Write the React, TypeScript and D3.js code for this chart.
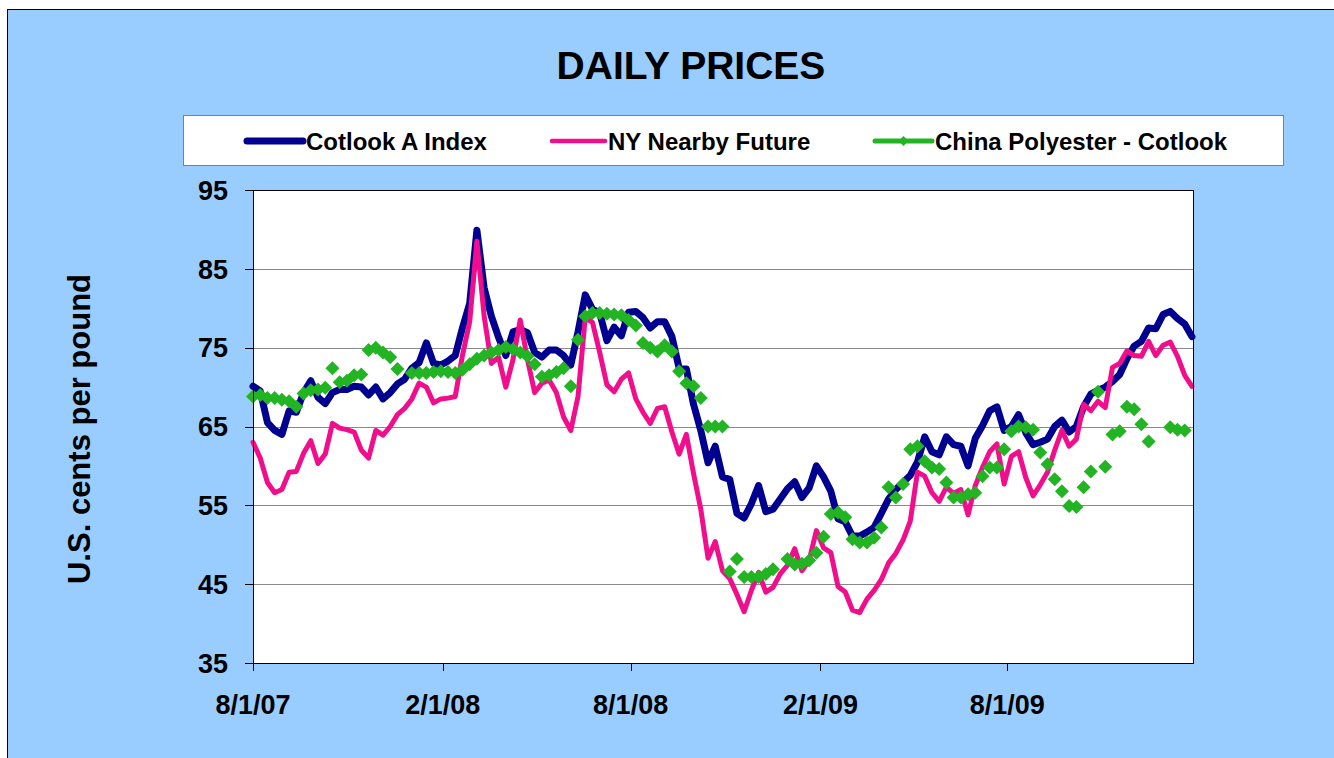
import React from "react";
import * as d3 from "d3";

// ---------- data ----------
const START_DATE = "2007-08-01";
const END_DATE = "2010-01-29";
const STEP_DAYS = 7; // weekly observations

const seriesNames = ["Cotlook A Index", "NY Nearby Future", "China Polyester - Cotlook"];
const chartTitle = "DAILY PRICES";
const yAxisTitle = "U.S. cents per pound";
const yTicks = [35, 45, 55, 65, 75, 85, 95];
const xTickLabels = ["8/1/07", "2/1/08", "8/1/08", "2/1/09", "8/1/09"];

const cotlookA: number[] = [
  70.1, 69.5, 65.5, 64.5, 64.0, 67.0, 66.8, 69.3, 70.8, 68.7,
  67.9, 69.3, 69.7, 69.7, 70.1, 70.0, 69.0, 70.0, 68.5, 69.3,
  70.4, 71.0, 72.4, 73.1, 75.6, 73.0, 72.8, 73.3, 74.0, 77.5,
  80.6, 89.9, 82.6, 79.0, 76.3, 74.0, 77.0, 77.3, 76.9, 74.4,
  73.8, 74.7, 74.7, 74.0, 72.8, 77.0, 81.7, 79.9, 79.4, 75.9,
  77.6, 76.5, 79.5, 79.6, 78.8, 77.5, 78.3, 78.3, 76.4, 72.4,
  72.3, 67.8, 64.5, 60.4, 62.5, 58.6, 58.3, 54.0, 53.4, 55.2,
  57.5, 54.2, 54.5, 55.8, 57.1, 58.0, 56.0, 57.2, 60.0, 58.6,
  56.8, 53.3, 52.9, 51.1, 51.1, 51.6, 52.2, 54.0, 55.8, 57.0,
  57.9, 58.8, 60.5, 63.7, 61.8, 61.4, 63.7, 62.7, 62.5, 60.0,
  63.5, 65.1, 67.0, 67.5, 64.5, 65.0, 66.5, 64.2, 62.7, 63.0,
  63.4, 65.0, 65.8, 64.3, 65.0, 67.5, 69.1, 69.6, 70.0, 70.7,
  71.6, 73.6, 75.2, 75.8, 77.5, 77.4, 79.2, 79.6, 78.7, 78.0,
  76.4,
];

const nyNearby: number[] = [
  63.0, 61.0, 57.9, 56.6, 57.0, 59.2, 59.3, 61.6, 63.2, 60.3,
  61.5, 65.4, 64.8, 64.6, 64.3, 62.0, 61.0, 64.5, 63.9, 65.0,
  66.5, 67.3, 68.5, 70.5, 70.0, 68.0, 68.5, 68.6, 68.8, 74.0,
  78.3, 88.5, 79.0, 73.0, 73.8, 70.0, 73.5, 78.5, 73.5, 69.3,
  70.5, 70.9, 69.3, 66.2, 64.5, 68.8, 78.8, 78.2, 74.4, 70.3,
  69.4, 71.0, 71.8, 68.5, 66.8, 65.4, 67.3, 67.5, 64.3, 61.5,
  64.0, 59.0, 54.5, 48.3, 50.4, 46.7, 45.7, 43.7, 41.5, 44.2,
  46.5, 44.0, 44.6, 46.3, 47.4, 49.5, 46.7, 48.0, 51.8, 49.6,
  49.0, 44.7, 44.0, 41.7, 41.4, 43.1, 44.2, 45.6, 47.7, 48.9,
  50.6, 53.0, 59.2, 58.7, 56.6, 55.5, 57.3, 56.5, 57.0, 53.8,
  57.5, 59.8, 61.8, 62.8, 57.7, 61.2, 61.8, 58.5, 56.2, 57.6,
  59.2, 62.0, 64.5, 62.5, 63.4, 67.8, 67.0, 68.2, 67.4, 72.5,
  73.0, 74.6, 74.0, 73.9, 75.8, 74.0, 75.3, 75.7, 73.9, 71.5,
  70.1,
];

const chinaPolyester: (number | null)[] = [
  68.8, 69.0, 68.6, 68.6, 68.4, 68.2, 67.5, 69.2, 69.6, 69.7,
  69.9, 72.4, 70.6, 70.8, 71.5, 71.6, 74.7, 75.0, 74.4, 73.8,
  72.3, null, 71.8, 71.8, 71.8, 71.9, 72.0, 71.9, 71.8, 72.2,
  72.9, 73.6, 74.0, 74.4, 74.7, 75.1, 74.8, 74.4, 73.9, 72.9,
  71.3, 71.5, 71.9, 72.4, 70.1, 76.0, 79.0, 79.4, 79.4, 79.3,
  79.2, 79.1, 78.5, 77.8, 75.6, 75.0, 74.5, 75.3, 74.5, 72.0,
  70.5, 70.1, 68.6, 65.0, 65.0, 65.0, 46.6, 48.2, 45.9, 45.9,
  45.9, 46.3, 46.9, null, 48.2, 47.5, 47.6, 48.0, 49.0, 51.0,
  53.9, 54.1, 53.5, 50.7, 50.3, 50.3, 50.9, 52.2, 57.3, 56.0,
  57.7, 62.1, 62.5, 60.6, 59.8, 59.6, 57.9, 56.0, 56.0, 56.4,
  56.6, 58.7, 59.8, 59.8, 62.1, 64.4, 65.0, 64.9, 64.6, 61.7,
  60.2, 58.3, 56.8, 54.9, 54.8, 57.3, 59.3, 69.4, 59.9, 64.0,
  64.4, 67.5, 67.2, 65.3, 63.1, null, null, 64.9, 64.6, 64.5,
  null,
];

// ---------- styles ----------
const FONT = 'Arial, "Liberation Sans", sans-serif';
const BG = "#99CCFF";
const BLUE = "#000090";
const PINK = "#F00E8C";
const GREEN = "#22B422";

export default function App() {
  const W = 1334;
  const H = 758;
  const plot = { left: 253, right: 1194, top: 190, bottom: 663 };

  const parseISO = d3.timeParse("%Y-%m-%d");
  const parseTick = d3.timeParse("%m/%d/%y");
  const start = parseISO(START_DATE) as Date;
  const end = parseISO(END_DATE) as Date;

  const x = d3.scaleTime().domain([start, end]).range([plot.left, plot.right]);
  const y = d3.scaleLinear().domain([35, 95]).range([plot.bottom, plot.top]);

  const dates = cotlookA.map((_, i) => d3.timeDay.offset(start, i * STEP_DAYS));
  const xTickDates = xTickLabels.map((s) => parseTick(s) as Date);

  type Pt = [Date, number | null];
  const line = d3
    .line<Pt>()
    .defined((d) => d[1] != null)
    .x((d) => x(d[0]))
    .y((d) => y(d[1] as number));

  const bluePts: Pt[] = cotlookA.map((v, i) => [dates[i], v]);
  const pinkPts: Pt[] = nyNearby.map((v, i) => [dates[i], v]);
  const greenPts = chinaPolyester
    .map((v, i) => [dates[i], v] as Pt)
    .filter((d) => d[1] != null);

  const r = 7;
  const diamond = (cx: number, cy: number, rr: number) =>
    `M${cx},${cy - rr}L${cx + rr},${cy}L${cx},${cy + rr}L${cx - rr},${cy}Z`;

  const gridVals = yTicks.filter((v) => v !== 35 && v !== 95);

  // legend layout
  const legend = { x: 183, y: 115, w: 1100, h: 50 };
  const legendY = 141;
  const legendItems = [
    { name: seriesNames[0], x1: 247, x2: 303, color: BLUE, width: 7, marker: false },
    { name: seriesNames[1], x1: 552, x2: 605, color: PINK, width: 4.5, marker: false },
    { name: seriesNames[2], x1: 875, x2: 932, color: GREEN, width: 5, marker: true },
  ];

  return (
    <svg
      width={W}
      height={H}
      style={{ position: "absolute", left: 0, top: 0, display: "block" }}
      fontFamily={FONT}
    >
      <rect x={0} y={0} width={W} height={H} fill="#ffffff" />
      <rect x={7.5} y={9.5} width={W + 20} height={H + 20} fill={BG} stroke="#000" strokeWidth={1} />

      {/* title */}
      <text x={691} y={79} textAnchor="middle" fontSize={39} fontWeight="bold" fill="#000">
        {chartTitle}
      </text>

      {/* legend */}
      <rect x={legend.x + 0.5} y={legend.y + 0.5} width={legend.w} height={legend.h} fill="#fff" stroke="#808080" strokeWidth={1} />
      {legendItems.map((it) => (
        <g key={it.name}>
          <line x1={it.x1} x2={it.x2} y1={legendY} y2={legendY} stroke={it.color} strokeWidth={it.width} strokeLinecap="round" />
          {it.marker && <path d={diamond((it.x1 + it.x2) / 2, legendY, 5)} fill={it.color} />}
          <text x={it.x2 + 3} y={legendY + 8.5} fontSize={24} fontWeight="bold" fill="#000">
            {it.name}
          </text>
        </g>
      ))}

      {/* plot area */}
      <rect x={plot.left} y={plot.top} width={plot.right - plot.left} height={plot.bottom - plot.top} fill="#fff" />
      {gridVals.map((v) => (
        <line key={v} x1={plot.left} x2={plot.right} y1={Math.round(y(v)) + 0.5} y2={Math.round(y(v)) + 0.5} stroke="#8a8a8a" strokeWidth={1.2} />
      ))}

      {/* series */}
      <path d={line(bluePts) || ""} fill="none" stroke={BLUE} strokeWidth={7} strokeLinejoin="round" strokeLinecap="round" />
      <path d={line(pinkPts) || ""} fill="none" stroke={PINK} strokeWidth={5} strokeLinejoin="round" strokeLinecap="round" />
      {greenPts.map((d, i) => (
        <path key={i} d={diamond(x(d[0]), y(d[1] as number), r)} fill={GREEN} />
      ))}

      {/* plot border */}
      <rect x={plot.left + 0.5} y={plot.top + 0.5} width={plot.right - plot.left - 1} height={plot.bottom - plot.top} fill="none" stroke="#000" strokeWidth={1} />

      {/* y axis */}
      {yTicks.map((v) => (
        <g key={v}>
          <line x1={plot.left - 8} x2={plot.left} y1={Math.round(y(v)) + 0.5} y2={Math.round(y(v)) + 0.5} stroke="#000" strokeWidth={1} />
          <text x={228} y={y(v) + 9.7} textAnchor="end" fontSize={27} fontWeight="bold" fill="#000">
            {v}
          </text>
        </g>
      ))}

      {/* x axis */}
      {xTickDates.map((d, i) => (
        <g key={i}>
          <line x1={Math.round(x(d)) + 0.5} x2={Math.round(x(d)) + 0.5} y1={plot.bottom} y2={plot.bottom + 8} stroke="#000" strokeWidth={1} />
          <text x={x(d)} y={714} textAnchor="middle" fontSize={27} fontWeight="bold" fill="#000">
            {d3.timeFormat("%-m/%-d/%y")(d)}
          </text>
        </g>
      ))}

      {/* y axis title */}
      <text
        transform={`translate(90,429) rotate(-90)`}
        textAnchor="middle"
        fontSize={31}
        fontWeight="bold"
        fill="#000"
      >
        {yAxisTitle}
      </text>
    </svg>
  );
}
